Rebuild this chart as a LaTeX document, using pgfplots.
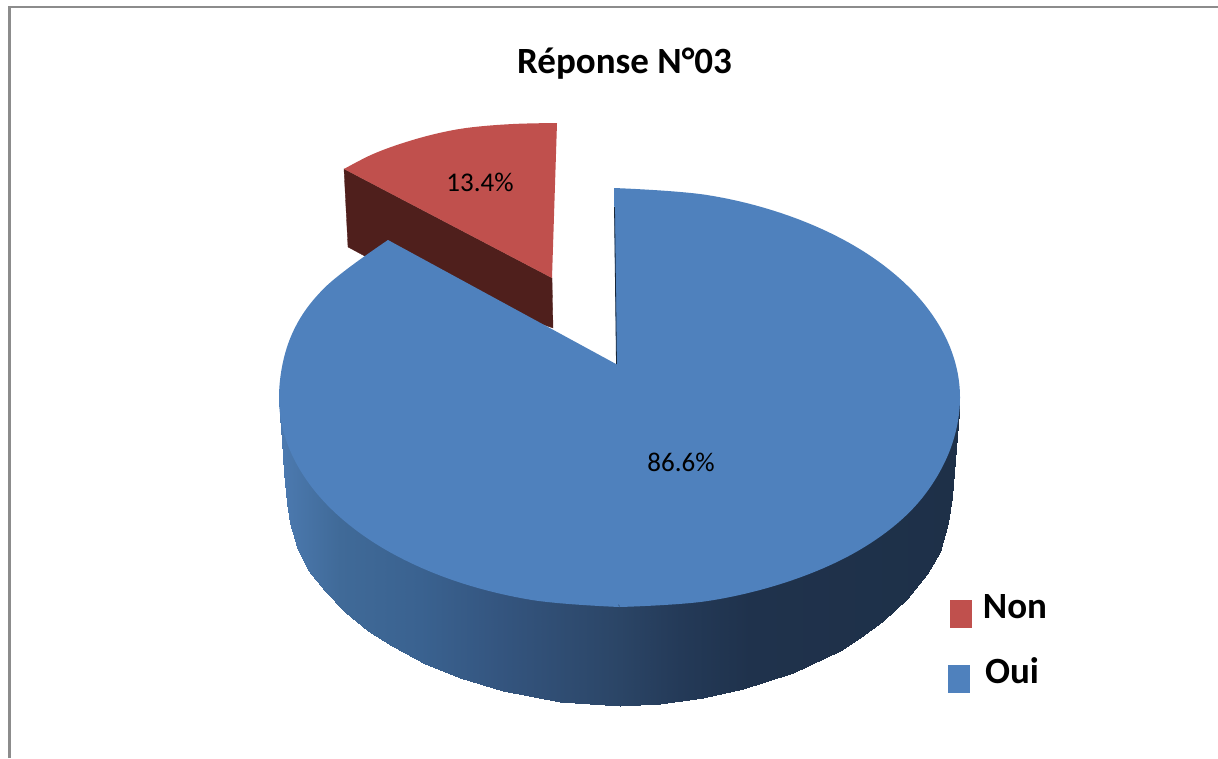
\documentclass[border=0pt]{standalone}
\usepackage{fontspec}
\setmainfont{Carlito}
\usepackage{pgfplots}
\pgfplotsset{compat=1.18}
\definecolor{pieblue}{RGB}{79,129,189}
\definecolor{piered}{RGB}{192,80,77}
\definecolor{reddark}{RGB}{79,31,28}
\definecolor{framegray}{RGB}{140,140,140}
\begin{document}
\begin{tikzpicture}
\begin{axis}[
    scale only axis,
    width=1218pt,
    height=758pt,
    xmin=0, xmax=1218,
    ymin=0, ymax=758,
    y dir=reverse,
    hide axis,
    colormap={piewall}{
        rgb255(0cm)=(76,122,176);
        rgb255(0.6cm)=(64,106,152);
        rgb255(1.4cm)=(58,98,144);
        rgb255(2.2cm)=(52,85,127);
        rgb255(3.4cm)=(43,69,102);
        rgb255(4.0cm)=(36,58,88);
        rgb255(4.7cm)=(31,50,76);
        rgb255(6.8cm)=(30,48,72)
    },
    point meta min=280,
    point meta max=960,
]
% keeps the page as large as the whole axis
\addplot[draw=none] coordinates {(0,0) (1218,758)};

% frame of the chart area
\addplot[framegray, line width=2.5pt] coordinates {(9.5,758) (9.5,7) (1218,7)};

% exploded slice "Non": wall, then top
\addplot[fill=reddark, draw=reddark, line width=0.3pt] coordinates {
    (344,169) (348,247) (400,275) (553,328) (552,278)} -- cycle;
\addplot[fill=piered, draw=none, smooth, tension=0.6] coordinates {
    (344,169) (372,154.5) (403,143) (437,133.5) (470,127.5) (513,124) (557,123)};
\addplot[fill=piered, draw=none] coordinates {
    (344,169) (403,145) (470,130) (557,123) (552,278)} -- cycle;

% wall of slice "Oui", shaded from left to right
\addplot[surf, shader=interp, mesh/rows=2, point meta=x] table {
x y
279 397
280 405
282 425
284 430
287 435
290 445
297 458
308 475
325 497
345 515
368 535
392 548
425 565
460 578
503 589
560 599
620 602
660 600
703 596
743 588
793 573
840 552
860 540
883 525
907 502
927 475
940 455
948 440
952 430
955 420
959 405
279 397
280 417
282 440
284 473
287 503
290 523
297 547
308 570
325 591.4
345 611.9
368 630.5
392 646.3
425 663.6
460 677.9
503 691
560 701.6
620 706
660 703.8
703 697.9
743 689
793 672.7
840 650.5
860 638.2
883 621.3
907 599.1
927 574.3
940 551.9
948 523
952 497
955 460
959 413
};

% top of slice "Oui"
\addplot[fill=pieblue, draw=none, smooth, tension=0.6] coordinates {
    (614,188) (707.6,195.1) (789.8,216.1) (860.3,249.4) (914.4,292.75) (948.4,343.3)
    (960,397.5) (948.4,454) (914.4,507) (860.3,549.5) (789.8,581) (707.6,601)
    (619.5,607)};
\addplot[fill=pieblue, draw=none, smooth, tension=0.6] coordinates {
    (619.5,607) (531.4,599.9) (449.3,578.9) (378.7,545.6) (324.6,502.25) (290.6,451.7)
    (279,397.5) (290.6,337.3) (324.6,287.75) (388,240)};
\addplot[fill=pieblue, draw=none] coordinates {
    (388,240) (616,364) (700,400) (640,600) (619.5,605) (500,560) (340,300)} -- cycle;
\addplot[black!70!pieblue, line width=0.8pt] coordinates {(614.5,207) (616.5,364)};

% legend keys
\addplot[fill=piered, draw=none] coordinates {(950,600) (972,600) (972,628) (950,628)} -- cycle;
\addplot[fill=pieblue, draw=none] coordinates {(948,665) (970,665) (970,693) (948,693)} -- cycle;

\node[font=\fontsize{37}{40}\selectfont\bfseries] at (axis cs:624.5,63.5) {Réponse N°03};
\node[font=\fontsize{27}{30}\selectfont] at (axis cs:480,182) {13.4\%};
\node[font=\fontsize{27}{30}\selectfont] at (axis cs:681,462) {86.6\%};
\node[font=\fontsize{37}{40}\selectfont\bfseries] at (axis cs:1015,607) {Non};
\node[font=\fontsize{37}{40}\selectfont\bfseries] at (axis cs:1012,671) {Oui};
\end{axis}
\end{tikzpicture}
\end{document}
